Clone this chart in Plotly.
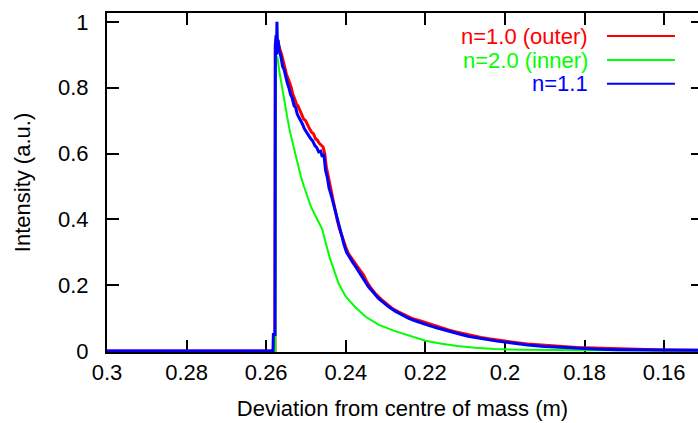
import plotly.graph_objects as go

# ---- data ----
red_x = [0.30, 0.2578, 0.2577, 0.2574, 0.2572, 0.2569, 0.2565, 0.2561, 0.2557, 0.2553,
         0.2549, 0.2545, 0.2541, 0.2537, 0.2533, 0.2528, 0.2524, 0.2520, 0.2515, 0.2511,
         0.2506, 0.2501, 0.2496, 0.2491, 0.2486, 0.2481, 0.2476, 0.2471, 0.2466, 0.2461,
         0.2457, 0.2453, 0.2449, 0.2444, 0.2439, 0.2435, 0.2430, 0.2426, 0.2421, 0.2416,
         0.2411, 0.2406, 0.2400, 0.2393, 0.2386, 0.2379, 0.2372, 0.2364, 0.2356, 0.2347,
         0.2336, 0.2324, 0.2311, 0.2298, 0.2284, 0.2268, 0.2251, 0.2234, 0.2216, 0.2198,
         0.2180, 0.2160, 0.2140, 0.2120, 0.2100, 0.2080, 0.2060, 0.2040, 0.2020, 0.2000,
         0.1970, 0.1943, 0.1900, 0.1860, 0.1820, 0.1776, 0.1720, 0.1680, 0.1660, 0.1600,
         0.1515]
red_y = [0, 0, 0.93, 0.955, 0.945, 0.935, 0.915, 0.90, 0.875, 0.86,
         0.84, 0.83, 0.815, 0.80, 0.78, 0.765, 0.75, 0.745, 0.73, 0.72,
         0.705, 0.70, 0.685, 0.675, 0.665, 0.66, 0.645, 0.64, 0.63, 0.625,
         0.62, 0.60, 0.56, 0.53, 0.50, 0.48, 0.445, 0.42, 0.395, 0.372,
         0.352, 0.333, 0.315, 0.295, 0.282, 0.272, 0.26, 0.245, 0.232, 0.21,
         0.19, 0.172, 0.157, 0.143, 0.13, 0.119, 0.108, 0.099, 0.093, 0.086,
         0.079, 0.07, 0.063, 0.057, 0.051, 0.046, 0.041, 0.037, 0.033, 0.03,
         0.025, 0.021, 0.017, 0.014, 0.011, 0.009, 0.007, 0.005, 0.004, 0.003,
         0.002]

green_x = [0.30, 0.2577, 0.2576, 0.2572, 0.2567, 0.2559, 0.2553, 0.2547, 0.2540, 0.2530,
           0.2522, 0.2513, 0.2505, 0.2497, 0.2488, 0.2476, 0.2467, 0.2459, 0.2453, 0.2447,
           0.2440, 0.2433, 0.2418, 0.2400, 0.2376, 0.2350, 0.2318, 0.2280, 0.2243, 0.2200,
           0.2159, 0.2120, 0.2076, 0.2026, 0.1960, 0.1900, 0.1800, 0.1700, 0.1600, 0.1515]
green_y = [0, 0, 0.88, 0.895, 0.85, 0.79, 0.75, 0.71, 0.665, 0.612,
           0.57, 0.531, 0.50, 0.47, 0.44, 0.41, 0.39, 0.37, 0.34, 0.31,
           0.282, 0.258, 0.205, 0.165, 0.133, 0.104, 0.08, 0.062, 0.047, 0.031,
           0.022, 0.015, 0.01, 0.006, 0.004, 0.003, 0.002, 0.002, 0.001, 0.001]

blue_x = [0.30, 0.2583, 0.2582, 0.2578, 0.2577, 0.2575, 0.2574, 0.2573, 0.2572, 0.2570,
          0.2567, 0.2563, 0.2559, 0.2555, 0.2551, 0.2547, 0.2543, 0.2539, 0.2535, 0.2530,
          0.2526, 0.2522, 0.2518, 0.2513, 0.2509, 0.2504, 0.2499, 0.2494, 0.2488, 0.2483,
          0.2478, 0.2473, 0.2468, 0.2463, 0.2459, 0.2455, 0.2451, 0.2446, 0.2442, 0.2437,
          0.2433, 0.2428, 0.2424, 0.2419, 0.2414, 0.2409, 0.2405, 0.2398, 0.2390, 0.2383,
          0.2376, 0.2368, 0.2360, 0.2352, 0.2343, 0.2330, 0.2318, 0.2305, 0.2293, 0.2276,
          0.2260, 0.2243, 0.2226, 0.2208, 0.2190, 0.2170, 0.2151, 0.2130, 0.2110, 0.2093,
          0.2076, 0.2058, 0.2040, 0.2020, 0.2000, 0.1970, 0.1943, 0.1900, 0.1859, 0.1820,
          0.1776, 0.1720, 0.1660, 0.1600, 0.1515]
blue_y = [0, 0, 0.05, 0.05, 0.93, 0.96, 0.90, 1.0, 0.94, 0.945,
          0.91, 0.895, 0.865, 0.855, 0.83, 0.815, 0.80, 0.78, 0.77, 0.745,
          0.74, 0.72, 0.71, 0.70, 0.69, 0.675, 0.665, 0.655, 0.645, 0.638,
          0.625, 0.618, 0.605, 0.607, 0.59, 0.598, 0.55, 0.525, 0.495, 0.475,
          0.455, 0.432, 0.41, 0.388, 0.368, 0.345, 0.325, 0.30, 0.282, 0.27,
          0.258, 0.243, 0.228, 0.212, 0.195, 0.177, 0.16, 0.147, 0.135, 0.121,
          0.11, 0.1, 0.092, 0.084, 0.077, 0.07, 0.063, 0.057, 0.05, 0.045,
          0.041, 0.037, 0.034, 0.03, 0.027, 0.022, 0.018, 0.014, 0.011, 0.008,
          0.006, 0.004, 0.003, 0.003, 0.002]

x_ticks = [0.30, 0.28, 0.26, 0.24, 0.22, 0.20, 0.18, 0.16]
x_tick_labels = ["0.3", "0.28", "0.26", "0.24", "0.22", "0.2", "0.18", "0.16"]
y_ticks = [0, 0.2, 0.4, 0.6, 0.8, 1.0]
y_tick_labels = ["0", "0.2", "0.4", "0.6", "0.8", "1"]

series_names = ["n=1.0 (outer)", "n=2.0 (inner)", "n=1.1"]
series_colors = ["#ff0000", "#00ff00", "#0000ff"]

FONT = "Liberation Sans, Arial, Helvetica, sans-serif"
FS = 22
Y_RANGE = [-0.003, 1.027]

fig = go.Figure()
fig.add_trace(go.Scatter(x=red_x, y=red_y, mode="lines", name=series_names[0],
                         line=dict(color=series_colors[0], width=3), showlegend=False))
fig.add_trace(go.Scatter(x=green_x, y=green_y, mode="lines", name=series_names[1],
                         line=dict(color=series_colors[1], width=2), showlegend=False))
fig.add_trace(go.Scatter(x=blue_x, y=blue_y, mode="lines", name=series_names[2],
                         line=dict(color=series_colors[2], width=3), showlegend=False))
# dummy trace to show right-hand mirrored ticks
fig.add_trace(go.Scatter(x=[], y=[], yaxis="y2", showlegend=False, hoverinfo="skip"))

# gnuplot-style key: text right-aligned, sample line to the right
row_y = [0.932, 0.861, 0.791]
for name, col, yy in zip(series_names, series_colors, row_y):
    fig.add_annotation(x=0.817, y=yy, xref="paper", yref="paper", text=name,
                       showarrow=False, xanchor="right", yanchor="middle",
                       font=dict(family=FONT, size=FS, color=col))
    fig.add_shape(type="line", xref="paper", yref="paper", x0=0.846, x1=0.961,
                  y0=yy, y1=yy, line=dict(color=col, width=2))

fig.update_layout(
    width=698, height=423, autosize=False,
    margin=dict(l=107, r=0, t=13, b=71),
    paper_bgcolor="white", plot_bgcolor="white",
    font=dict(family=FONT, size=FS, color="black"),
    xaxis=dict(range=[0.30, 0.1515], tickvals=x_ticks, ticktext=x_tick_labels,
               ticks="inside", ticklen=12, tickwidth=1.5, tickcolor="black",
               showline=True, linecolor="black", linewidth=2, mirror="ticks",
               layer="below traces",
               showgrid=False, zeroline=False, ticklabelstandoff=0,
               tickfont=dict(family=FONT, size=FS),
               title=dict(text="Deviation from centre of mass (m)", standoff=16,
                          font=dict(family=FONT, size=FS))),
    yaxis=dict(range=Y_RANGE, tickvals=y_ticks, ticktext=y_tick_labels,
               ticks="inside", ticklen=12, tickwidth=1.5, tickcolor="black",
               showline=True, linecolor="black", linewidth=2, mirror=False,
               layer="below traces",
               showgrid=False, zeroline=False, ticklabelstandoff=12,
               tickfont=dict(family=FONT, size=FS),
               title=dict(text="Intensity (a.u.)", standoff=21,
                          font=dict(family=FONT, size=FS))),
    yaxis2=dict(range=Y_RANGE, overlaying="y", side="right", tickvals=y_ticks,
                ticks="inside", ticklen=7, tickwidth=1.5, tickcolor="black",
                showticklabels=False, showline=False, showgrid=False, zeroline=False),
)

fig.write_html("out.html")
